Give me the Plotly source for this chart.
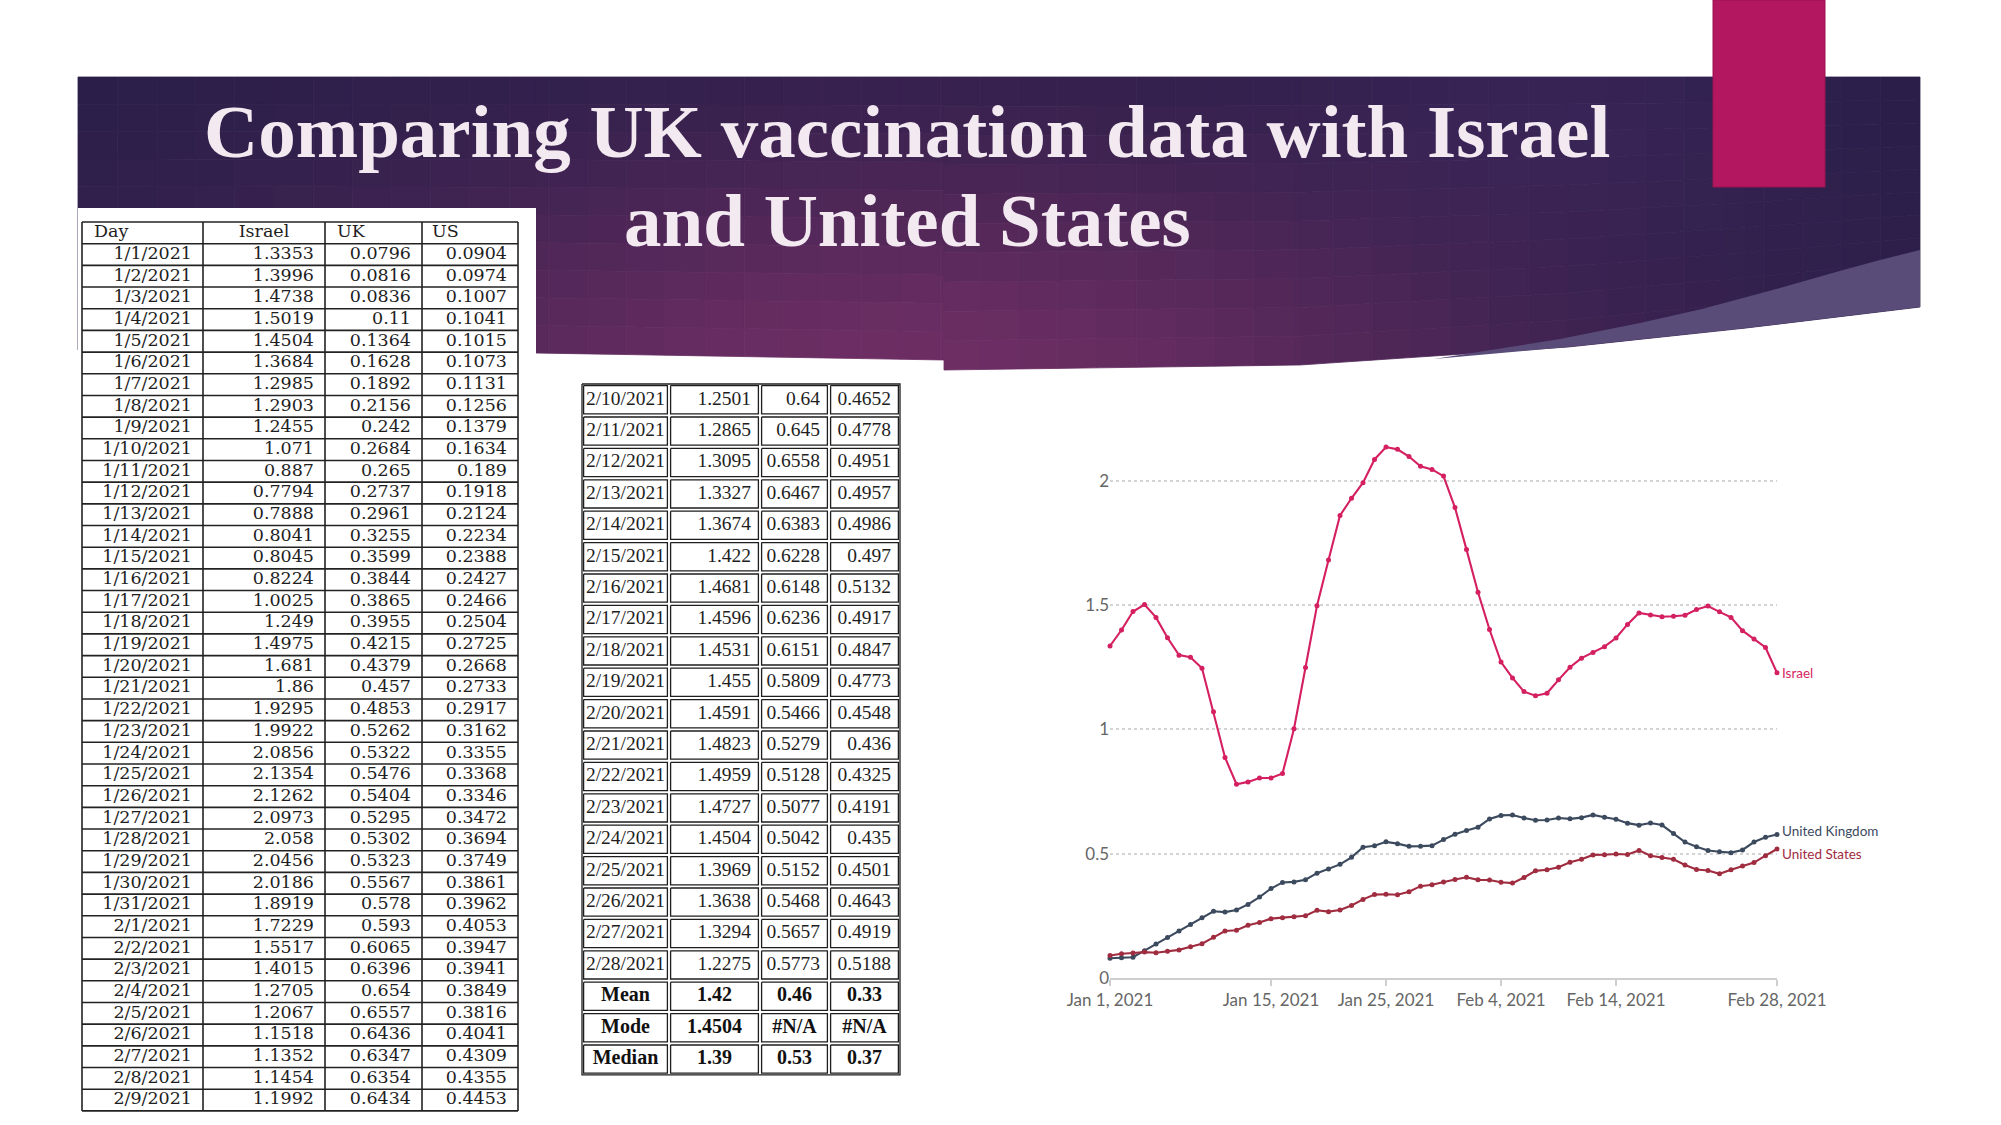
import numpy as np
import pandas as pd
import plotly.graph_objects as go

W, H = 2001, 1125

# ---------------- data ----------------
dates = pd.date_range("2021-01-01", "2021-02-28", freq="D")
day_labels = [f"{d.month}/{d.day}/{d.year}" for d in dates]

israel = [1.3353, 1.3996, 1.4738, 1.5019, 1.4504, 1.3684, 1.2985, 1.2903, 1.2455, 1.071,
          0.887, 0.7794, 0.7888, 0.8041, 0.8045, 0.8224, 1.0025, 1.249, 1.4975, 1.681,
          1.86, 1.9295, 1.9922, 2.0856, 2.1354, 2.1262, 2.0973, 2.058, 2.0456, 2.0186,
          1.8919, 1.7229, 1.5517, 1.4015, 1.2705, 1.2067, 1.1518, 1.1352, 1.1454, 1.1992,
          1.2501, 1.2865, 1.3095, 1.3327, 1.3674, 1.422, 1.4681, 1.4596, 1.4531, 1.455,
          1.4591, 1.4823, 1.4959, 1.4727, 1.4504, 1.3969, 1.3638, 1.3294, 1.2275]
uk = [0.0796, 0.0816, 0.0836, 0.11, 0.1364, 0.1628, 0.1892, 0.2156, 0.242, 0.2684,
      0.265, 0.2737, 0.2961, 0.3255, 0.3599, 0.3844, 0.3865, 0.3955, 0.4215, 0.4379,
      0.457, 0.4853, 0.5262, 0.5322, 0.5476, 0.5404, 0.5295, 0.5302, 0.5323, 0.5567,
      0.578, 0.593, 0.6065, 0.6396, 0.654, 0.6557, 0.6436, 0.6347, 0.6354, 0.6434,
      0.64, 0.645, 0.6558, 0.6467, 0.6383, 0.6228, 0.6148, 0.6236, 0.6151, 0.5809,
      0.5466, 0.5279, 0.5128, 0.5077, 0.5042, 0.5152, 0.5468, 0.5657, 0.5773]
us = [0.0904, 0.0974, 0.1007, 0.1041, 0.1015, 0.1073, 0.1131, 0.1256, 0.1379, 0.1634,
      0.189, 0.1918, 0.2124, 0.2234, 0.2388, 0.2427, 0.2466, 0.2504, 0.2725, 0.2668,
      0.2733, 0.2917, 0.3162, 0.3355, 0.3368, 0.3346, 0.3472, 0.3694, 0.3749, 0.3861,
      0.3962, 0.4053, 0.3947, 0.3941, 0.3849, 0.3816, 0.4041, 0.4309, 0.4355, 0.4453,
      0.4652, 0.4778, 0.4951, 0.4957, 0.4986, 0.497, 0.5132, 0.4917, 0.4847, 0.4773,
      0.4548, 0.436, 0.4325, 0.4191, 0.435, 0.4501, 0.4643, 0.4919, 0.5188]

table_headers = ["Day", "Israel", "UK", "US"]
stat_labels = ["Mean", "Mode", "Median"]
stat_israel = ["1.42", "1.4504", "1.39"]
stat_uk = ["0.46", "#N/A", "0.53"]
stat_us = ["0.33", "#N/A", "0.37"]

series_names = ["Israel", "United Kingdom", "United States"]
series_colors = ["#d41f60", "#3c4a5e", "#a02c40"]

x_tickvals = ["2021-01-01", "2021-01-15", "2021-01-25", "2021-02-04", "2021-02-14", "2021-02-28"]
x_ticktext = ["Jan 1, 2021", "Jan 15, 2021", "Jan 25, 2021", "Feb 4, 2021", "Feb 14, 2021", "Feb 28, 2021"]
y_tickvals = [0, 0.5, 1, 1.5, 2]
y_ticktext = ["0", "0.5", "1", "1.5", "2"]

title_lines = ["Comparing UK vaccination data with Israel", "and United States"]

SPLIT = 40  # rows shown in the first table


def fx(px):
    return px / W


def fy(py):
    return 1 - py / H


fig = go.Figure()

# ---------------- background decoration (banner) ----------------
shapes = []
BAN_L, BAN_R, BAN_T = 78, 1920, 77
left_pts = ([78, 536, 944], [350, 353, 360])
right_pts = ([944, 1300, 1568, 1746, 1920], [370, 365, 347, 328, 307])


def bottom(x, side):
    if side == "L":
        return float(np.interp(x, *left_pts))
    return float(np.interp(x, *right_pts))


def banner_color(x, y):
    w = np.exp(-((x - 900) / 650) ** 2 - ((y - 390) / 240) ** 2)
    dark = np.array([40, 30, 72])
    bright = np.array([110, 46, 100])
    c = dark + w * (bright - dark)
    w2 = 0.35 * np.exp(-((x - 1560) / 230) ** 2 - ((y - 120) / 120) ** 2)
    c = c + w2 * (np.array([75, 45, 108]) - c)
    r, g, b = [int(round(v)) for v in c]
    return f"rgb({r},{g},{b})"


xs_cols = sorted(set(list(np.linspace(BAN_L, BAN_R, 48)) + [536, 944, 1300, 1568, 1746]))
ROWS = 10
for i in range(len(xs_cols) - 1):
    xa, xb = xs_cols[i], xs_cols[i + 1]
    side = "L" if xb <= 944 else "R"
    ba, bb = bottom(xa, side), bottom(xb, side)
    for j in range(ROWS):
        ya0 = BAN_T + (ba - BAN_T) * j / ROWS
        ya1 = BAN_T + (ba - BAN_T) * (j + 1) / ROWS
        yb0 = BAN_T + (bb - BAN_T) * j / ROWS
        yb1 = BAN_T + (bb - BAN_T) * (j + 1) / ROWS
        col = banner_color((xa + xb) / 2, (ya0 + ya1 + yb0 + yb1) / 4)
        path = (f"M {fx(xa)},{fy(ya0)} L {fx(xb)},{fy(yb0)} L {fx(xb)},{fy(yb1)} "
                f"L {fx(xa)},{fy(ya1)} Z")
        shapes.append(dict(type="path", xref="paper", yref="paper", path=path,
                           fillcolor=col, line=dict(color=col, width=0.8), layer="below"))

sw_top = [(1434, 359), (1560, 339), (1640, 323), (1702, 309), (1780, 288), (1836, 272), (1880, 260), (1920, 250)]
sw_bot = [(1920, 307), (1746, 328), (1568, 347), (1434, 359)]
path = "M " + " L ".join(f"{fx(a)},{fy(b)}" for a, b in sw_top + sw_bot) + " Z"
shapes.append(dict(type="path", xref="paper", yref="paper", path=path,
                   fillcolor="#594c79", line=dict(width=0), layer="below"))

shapes.append(dict(type="rect", xref="paper", yref="paper", x0=fx(78), x1=fx(536),
                   y0=fy(1125), y1=fy(208), fillcolor="white", line=dict(width=0), layer="below"))

shapes.append(dict(type="rect", xref="paper", yref="paper", x0=fx(1713), x1=fx(1825),
                   y0=fy(187), y1=fy(0), fillcolor="#b3175f",
                   line=dict(color="#9c1353", width=1), layer="below"))

# ---------------- tables (drawn on a hidden pixel-unit axis pair x2/y2) ----------------
fmt = lambda v: str(v)


def add_text(xv, yv, texts, pos, font):
    fig.add_trace(go.Scatter(x=xv, y=yv, text=texts, mode="text", textposition=pos,
                             textfont=font, xaxis="x2", yaxis="y2",
                             hoverinfo="skip", showlegend=False, cliponaxis=False))


def add_lines(xv, yv, color, width):
    fig.add_trace(go.Scatter(x=xv, y=yv, mode="lines", line=dict(color=color, width=width),
                             xaxis="x2", yaxis="y2", hoverinfo="skip", showlegend=False,
                             cliponaxis=False))


# left table
T1_cols = [82, 203, 325, 422, 518]
T1_top, T1_row = 222, 21.68
t1_rows = [table_headers] + [[day_labels[k], fmt(israel[k]), fmt(uk[k]), fmt(us[k])] for k in range(SPLIT)]
n1 = len(t1_rows)
T1_bot = T1_top + n1 * T1_row
lx, ly = [], []
for k in range(n1 + 1):
    yy = T1_top + k * T1_row
    lx += [T1_cols[0], T1_cols[-1], None]
    ly += [yy, yy, None]
for c in T1_cols:
    lx += [c, c, None]
    ly += [T1_top, T1_bot, None]
add_lines(lx, ly, "#222222", 1.6)

f1 = dict(family="DejaVu Serif", size=17.5, color="#1e1e1e")
yc1 = [T1_top + (k + 0.5) * T1_row for k in range(n1)]
hdr_pos = ["middle right", "middle center", "middle right", "middle right"]
hdr_x = [T1_cols[0] + 12, (T1_cols[1] + T1_cols[2]) / 2, T1_cols[2] + 12, T1_cols[3] + 10]
for c in range(4):
    add_text([hdr_x[c]], [yc1[0]], [t1_rows[0][c]], hdr_pos[c], f1)
for c in range(4):
    add_text([T1_cols[c + 1] - 11] * (n1 - 1), yc1[1:], [r[c] for r in t1_rows[1:]], "middle left", f1)

# middle table
T2_cols = [582, 669, 760, 829, 900]
T2_top, T2_row = 384, 31.4
t2_rows = [[day_labels[k], fmt(israel[k]), fmt(uk[k]), fmt(us[k])] for k in range(SPLIT, len(day_labels))]
t2_stats = [list(r) for r in zip(stat_labels, stat_israel, stat_uk, stat_us)]
n2 = len(t2_rows) + len(t2_stats)
T2_bot = T2_top + n2 * T2_row
ins = 1.6
cx, cy = [T2_cols[0], T2_cols[-1], T2_cols[-1], T2_cols[0], T2_cols[0], None], \
         [T2_top, T2_top, T2_bot, T2_bot, T2_top, None]
for k in range(n2):
    y0, y1 = T2_top + k * T2_row + ins, T2_top + (k + 1) * T2_row - ins
    for c in range(4):
        x0, x1 = T2_cols[c] + ins, T2_cols[c + 1] - ins
        cx += [x0, x1, x1, x0, x0, None]
        cy += [y0, y0, y1, y1, y0, None]
add_lines(cx, cy, "#1e1e1e", 1.3)

f2 = dict(family="Liberation Serif", size=19.5, color="#1e1e1e")
f2b = dict(family="Liberation Serif", size=20, color="#111111", weight="bold")
yc2 = [T2_top + (k + 0.5) * T2_row for k in range(n2)]
nd = len(t2_rows)
add_text([(T2_cols[0] + T2_cols[1]) / 2] * nd, yc2[:nd], [r[0] for r in t2_rows], "middle center", f2)
for c in range(1, 4):
    add_text([T2_cols[c + 1] - 9] * nd, yc2[:nd], [r[c] for r in t2_rows], "middle left", f2)
for c in range(4):
    add_text([(T2_cols[c] + T2_cols[c + 1]) / 2] * len(t2_stats), yc2[nd:],
             [r[c] for r in t2_stats], "middle center", f2b)

# ---------------- line chart ----------------
for name, vals, colr in zip(series_names, [israel, uk, us], series_colors):
    fig.add_trace(go.Scatter(x=dates, y=vals, mode="lines+markers", name=name,
                             line=dict(color=colr, width=2.1),
                             marker=dict(color=colr, size=5),
                             cliponaxis=False, hoverinfo="skip", showlegend=False))

chart_font = "Lato, sans-serif"
label_shift = [0, 3, -5]
annotations = []
for name, vals, colr, sh in zip(series_names, [israel, uk, us], series_colors, label_shift):
    annotations.append(dict(x=dates[-1], y=vals[-1], xref="x", yref="y", text=name,
                            showarrow=False, xanchor="left", yanchor="middle",
                            xshift=3, yshift=sh,
                            font=dict(family=chart_font, size=13.5, color=colr)))

title_y = [131, 221]
for t, yy in zip(title_lines, title_y):
    annotations.append(dict(x=fx(907), y=fy(yy), xref="paper", yref="paper", text=f"<b>{t}</b>",
                            showarrow=False, xanchor="center", yanchor="middle",
                            font=dict(family="Liberation Serif", size=75, color="#f3e9f1")))

fig.update_layout(
    width=W, height=H, margin=dict(l=0, r=0, t=0, b=0, pad=0, autoexpand=False),
    autosize=False,
    paper_bgcolor="white", plot_bgcolor="rgba(0,0,0,0)",
    showlegend=False, shapes=shapes, annotations=annotations,
    xaxis=dict(domain=[fx(1110), fx(1777)], type="date",
               range=[dates[0], dates[-1]],
               tickvals=x_tickvals, ticktext=x_ticktext,
               showgrid=False, zeroline=False, showline=True,
               linecolor="#cfcfcf", linewidth=1.5, automargin=False,
               ticks="outside", ticklen=6, tickcolor="#cfcfcf", tickwidth=1.5,
               tickfont=dict(family=chart_font, size=17, color="#666666")),
    yaxis=dict(domain=[fy(978), fy(431)], range=[0, 2.2],
               tickvals=y_tickvals, ticktext=y_ticktext, automargin=False,
               showgrid=True, gridcolor="#d4d4d4", griddash="dot", gridwidth=1.5,
               zeroline=False, showline=False, ticks="",
               tickfont=dict(family=chart_font, size=17, color="#666666")),
    xaxis2=dict(domain=[0, 1], range=[0, W], visible=False, anchor="y2", automargin=False),
    yaxis2=dict(domain=[0, 1], range=[H, 0], visible=False, anchor="x2", automargin=False),
)

fig.write_html("out.html", config={"displayModeBar": False},
               post_script="document.body.style.margin='0';")
